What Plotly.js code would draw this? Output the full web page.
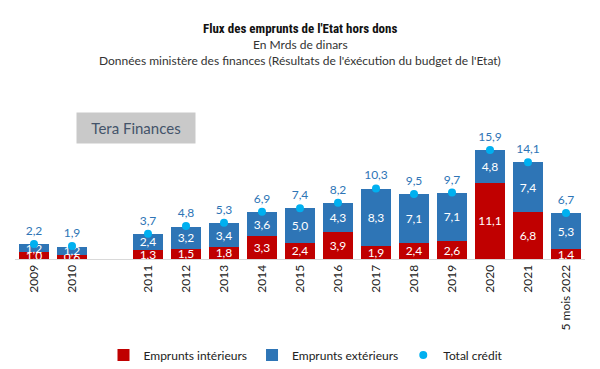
<!DOCTYPE html>
<html>
<head>
<meta charset="utf-8">
<script src="https://cdn.plot.ly/plotly-3.0.1.min.js"></script>
<style>html,body{margin:0;padding:0;background:#fff;}#chart{width:600px;height:369px;}</style>
</head>
<body>
<div id="chart"></div>
<script>
const categories = ["2009", "2010", " ", "2011", "2012", "2013", "2014", "2015", "2016", "2017", "2018", "2019", "2020", "2021", "5 mois 2022"];
const interieurs = [1.0, 0.6, null, 1.3, 1.5, 1.8, 3.3, 2.4, 3.9, 1.9, 2.4, 2.6, 11.1, 6.8, 1.4];
const exterieurs = [1.2, 1.2, null, 2.4, 3.2, 3.4, 3.6, 5.0, 4.3, 8.3, 7.1, 7.1, 4.8, 7.4, 5.3];
const totalCredit = [2.2, 1.9, null, 3.7, 4.8, 5.3, 6.9, 7.4, 8.2, 10.3, 9.5, 9.7, 15.9, 14.1, 6.7];

const FONT = "Lato, 'Open Sans', sans-serif";
const TITLE_FONT = "'Liberation Sans Narrow', 'Roboto Condensed', Lato, sans-serif";

const traces = [
  {
    type: 'bar', name: 'Emprunts intérieurs', x: categories, y: interieurs,
    marker: {color: '#c00000'},
    texttemplate: '%{y:.1f}', textposition: 'inside', insidetextanchor: 'middle',
    constraintext: 'none', textangle: 0,
    textfont: {color: '#ffffff', size: 12, family: FONT},
    hoverinfo: 'skip', cliponaxis: false
  },
  {
    type: 'bar', name: 'Emprunts extérieurs', x: categories, y: exterieurs,
    marker: {color: '#2e75b6'},
    texttemplate: '%{y:.1f}', textposition: 'inside', insidetextanchor: 'middle',
    constraintext: 'none', textangle: 0,
    textfont: {color: '#ffffff', size: 12, family: FONT},
    hoverinfo: 'skip', cliponaxis: false
  },
  {
    type: 'scatter', mode: 'markers+text', name: 'Total crédit', x: categories, y: totalCredit,
    marker: {color: '#00b0f0', size: 8},
    texttemplate: '%{y:.1f}', textposition: 'top center',
    textfont: {color: '#2e75b6', size: 12, family: FONT},
    hoverinfo: 'skip', cliponaxis: false
  }
];

const layout = {
  width: 600, height: 369,
  paper_bgcolor: '#ffffff', plot_bgcolor: '#ffffff',
  separators: ', ',
  font: {family: FONT, color: '#222222'},
  margin: {l: 15, r: 15, t: 100, b: 110, autoexpand: false},
  barmode: 'stack', bargap: 0.22,
  showlegend: true,
  legend: {
    orientation: 'h', xref: 'container', yref: 'container',
    x: 0.51, xanchor: 'center', y: 1 - 355 / 369, yanchor: 'middle',
    font: {size: 12, family: FONT, color: '#222222'},
    traceorder: 'normal', itemwidth: 30, tracegroupgap: 0
  },
  xaxis: {
    type: 'category', range: [-0.5, categories.length - 0.5], autorange: false,
    tickangle: -90, showgrid: false, zeroline: false,
    showline: true, linecolor: '#d9d9d9', linewidth: 1,
    ticks: '', tickfont: {size: 12, family: FONT, color: '#222222'},
    automargin: false, fixedrange: true
  },
  yaxis: {
    range: [0, 23.2], visible: false, showgrid: false, zeroline: false, fixedrange: true
  },
  annotations: [
    {text: "<b>Flux des emprunts de l'Etat hors dons</b>", xref: 'paper', yref: 'paper',
     x: 0.5, y: 1 + (100 - 28) / 159, xanchor: 'center', yanchor: 'middle', showarrow: false,
     font: {size: 13, family: TITLE_FONT, color: '#111111'}},
    {text: "En Mrds de dinars", xref: 'paper', yref: 'paper',
     x: 0.5, y: 1 + (100 - 44) / 159, xanchor: 'center', yanchor: 'middle', showarrow: false,
     font: {size: 12, family: FONT, color: '#333333'}},
    {text: "Données ministère des finances (Résultats de l'éxécution du budget de l'Etat)", xref: 'paper', yref: 'paper',
     x: 0.5, y: 1 + (100 - 60) / 159, xanchor: 'center', yanchor: 'middle', showarrow: false,
     font: {size: 12, family: FONT, color: '#333333'}},
    {text: "Tera Finances", xref: 'paper', yref: 'paper',
     x: (136 - 15) / 570, y: 1 - (127.5 - 100) / 159, xanchor: 'center', yanchor: 'middle', showarrow: false,
     bgcolor: '#c9c9c9', borderpad: 6, width: 106,
     font: {size: 15, family: FONT, color: '#44546a'}}
  ]
};

Plotly.newPlot('chart', traces, layout, {displayModeBar: false, staticPlot: true});
</script>
</body>
</html>
